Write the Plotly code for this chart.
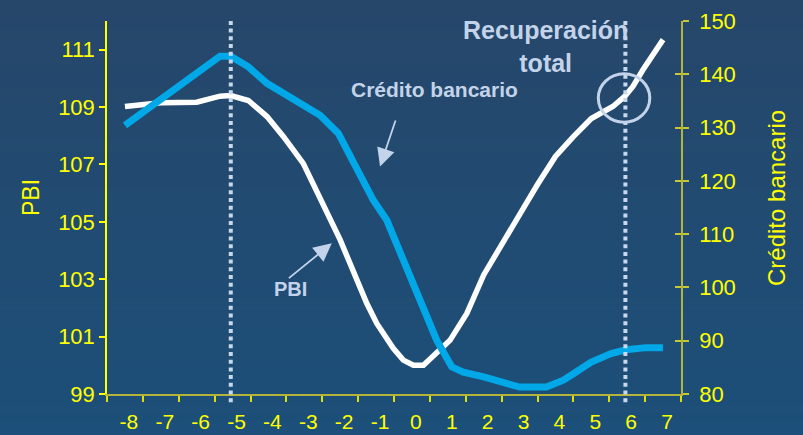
import plotly.graph_objects as go

# Quarters around the crisis (0 = trough)
quarter_ticks = [-8, -7, -6, -5, -4, -3, -2, -1, 0, 1, 2, 3, 4, 5, 6, 7]

# PBI (left axis)
pbi_x = [-8.0, -7.0, -6.0, -5.35, -5.05, -4.56, -4.04, -3.58, -3.03, -2.5, -2.0,
         -1.26, -0.98, -0.52, -0.24, 0.04, 0.32, 1.06, 1.53, 2.0, 2.54, 3.0, 3.5,
         4.0, 4.5, 5.0, 5.6, 5.93, 6.16, 6.44, 7.0]
pbi_y = [109.02, 109.15, 109.17, 109.38, 109.40, 109.23, 108.67, 107.97, 107.04, 105.65, 104.37,
         102.16, 101.46, 100.59, 100.18, 100.0, 100.0, 100.87, 101.81, 103.15, 104.25, 105.25, 106.3,
         107.28, 107.97, 108.6, 109.02, 109.37, 109.72, 110.30, 111.35]

# Crédito bancario (right axis)
cred_x = [-8.0, -7.0, -6.0, -5.35, -5.05, -4.56, -4.04, -3.5, -3.03, -2.56, -2.05,
          -1.54, -1.08, -0.70, -0.47, -0.05, 0.22, 0.41, 0.69, 1.11, 1.43, 2.0,
          3.0, 3.75, 4.22, 4.5, 5.0, 5.55, 5.97, 6.53, 7.0]
cred_y = [130.4, 135.4, 140.2, 143.4, 143.4, 141.4, 138.3, 136.2, 134.5, 132.3, 128.9,
          122.6, 116.4, 112.6, 108.8, 102.0, 97.6, 94.5, 90.1, 85.1, 84.1, 83.2,
          81.3, 81.3, 82.6, 83.8, 86.0, 87.6, 88.3, 88.7, 88.7]

# Reference quarters marked with dotted lines
marker_quarters = [-5.05, 5.95]

pbi_ticks = [99, 101, 103, 105, 107, 109, 111]
cred_ticks = [80, 90, 100, 110, 120, 130, 140, 150]

YELLOW = "#ffff00"
OLIVE = "#b4b43c"
PALE = "#c3d4ea"
FONT = "Liberation Sans, Arial, sans-serif"

fig = go.Figure()

fig.add_trace(go.Scatter(x=cred_x, y=cred_y, yaxis="y2", mode="lines",
                         line=dict(color="#00a8e8", width=7), showlegend=False,
                         hoverinfo="skip"))
fig.add_trace(go.Scatter(x=pbi_x, y=pbi_y, yaxis="y", mode="lines",
                         line=dict(color="#ffffff", width=5.5), showlegend=False,
                         hoverinfo="skip"))
# carrier for the inner tick marks of the right axis
fig.add_trace(go.Scatter(x=[None], y=[None], yaxis="y3", mode="lines",
                         showlegend=False, hoverinfo="skip"))

# vertical background gradient
W, H = 803, 435
ML, MR, MT, MB = 107, 122, 21, 41
pw, ph = W - ML - MR, H - MT - MB
top = (38, 71, 106)
bot = (28, 79, 121)
n = 60
shapes = []
for i in range(n):
    f = i / (n - 1)
    c = tuple(round(top[k] + (bot[k] - top[k]) * f) for k in range(3))
    py0 = H * i / n
    py1 = H * (i + 1) / n + 1
    shapes.append(dict(type="rect", xref="paper", yref="paper",
                       x0=(0 - ML) / pw, x1=(W - ML) / pw,
                       y0=(H - MB - py1) / ph, y1=(H - MB - py0) / ph,
                       line=dict(width=0), fillcolor="rgb(%d,%d,%d)" % c, layer="below"))

for q in marker_quarters:
    shapes.append(dict(type="line", xref="x", yref="paper", x0=q, x1=q, y0=-0.022, y1=1.004,
                       line=dict(color="#c8d8ea", width=4, dash="4px,3.7px"), layer="above"))

shapes.append(dict(type="circle", xref="x", yref="y", x0=5.195, x1=6.63, y0=108.47, y1=110.16,
                   line=dict(color=PALE, width=3), layer="above"))

annotations = [
    dict(text="<b>Recuperación</b><br><b>total</b>", xref="paper", yref="paper",
         x=(545.5 - ML) / pw, y=(H - MB - 46) / ph,
         showarrow=False, font=dict(family=FONT, size=25, color=PALE),
         xanchor="center", yanchor="middle", align="center"),
    dict(text="<b>Crédito bancario</b>", xref="paper", yref="paper", x=(434 - ML) / pw, y=(H - MB - 89) / ph,
         showarrow=False, font=dict(family=FONT, size=21, color=PALE), xanchor="center", yanchor="middle"),
    dict(text="<b>PBI</b>", xref="paper", yref="paper", x=(290 - ML) / pw, y=(H - MB - 289) / ph,
         showarrow=False, font=dict(family=FONT, size=20, color=PALE), xanchor="center", yanchor="middle"),
    dict(text="", x=-0.889, y=106.93, xref="x", yref="y", showarrow=True, ax=16, ay=-47.4,
         arrowhead=2, arrowsize=2.0, arrowwidth=1.8, arrowcolor=PALE, standoff=0),
    dict(text="", x=-2.234, y=104.25, xref="x", yref="y", showarrow=True, ax=-44.4, ay=36,
         arrowhead=2, arrowsize=2.0, arrowwidth=1.8, arrowcolor=PALE, standoff=0),
    dict(text="PBI", xref="paper", yref="paper", x=(31 - ML) / pw, y=(H - MB - 198) / ph,
         textangle=-90, showarrow=False, font=dict(family=FONT, size=23, color=YELLOW),
         xanchor="center", yanchor="middle"),
    dict(text="Crédito bancario", xref="paper", yref="paper", x=(776 - ML) / pw, y=(H - MB - 198) / ph,
         textangle=-90, showarrow=False, font=dict(family=FONT, size=24, color=YELLOW),
         xanchor="center", yanchor="middle"),
]

fig.update_layout(
    width=W, height=H,
    margin=dict(l=ML, r=MR, t=MT, b=MB, pad=0, autoexpand=False),
    paper_bgcolor="rgb(31,76,116)",
    plot_bgcolor="rgba(0,0,0,0)",
    font=dict(family=FONT, size=22, color=YELLOW),
    showlegend=False,
    shapes=shapes,
    annotations=annotations,
    xaxis=dict(range=[-8.5, 7.5], tickvals=quarter_ticks, ticktext=[str(t) for t in quarter_ticks],
               ticks="", showgrid=False, zeroline=False, showline=True, linecolor=OLIVE, linewidth=2,
               tickfont=dict(size=21, color=YELLOW), ticklabelshift=4, ticklabelstandoff=8,
               automargin=False,
               minor=dict(tickvals=[t - 0.5 for t in quarter_ticks] + [7.5], ticks="outside",
                          ticklen=6, tickwidth=1.5, tickcolor="#e0e000", showgrid=False)),
    yaxis=dict(range=[99, 112], tickvals=pbi_ticks, ticks="outside", ticklen=6, tickwidth=1.5,
               tickcolor=YELLOW, showline=True, linecolor=YELLOW, linewidth=1.5, showgrid=False,
               zeroline=False, tickfont=dict(size=22, color=YELLOW), automargin=False),
    yaxis2=dict(range=[80, 150], tickvals=cred_ticks, overlaying="y", side="right", ticks="outside",
                ticklen=6, tickwidth=1.5, tickcolor="#c8c830", showline=True, linecolor=OLIVE,
                linewidth=1.5, showgrid=False, zeroline=False, tickfont=dict(size=22, color=YELLOW),
                ticklabelstandoff=6, automargin=False),
    yaxis3=dict(range=[80, 150], tickvals=cred_ticks, overlaying="y", side="right", ticks="inside",
                ticklen=6, tickwidth=1.5, tickcolor="#c8c830", showline=False, showgrid=False,
                zeroline=False, showticklabels=False, automargin=False),
)

fig.write_html("out.html")
